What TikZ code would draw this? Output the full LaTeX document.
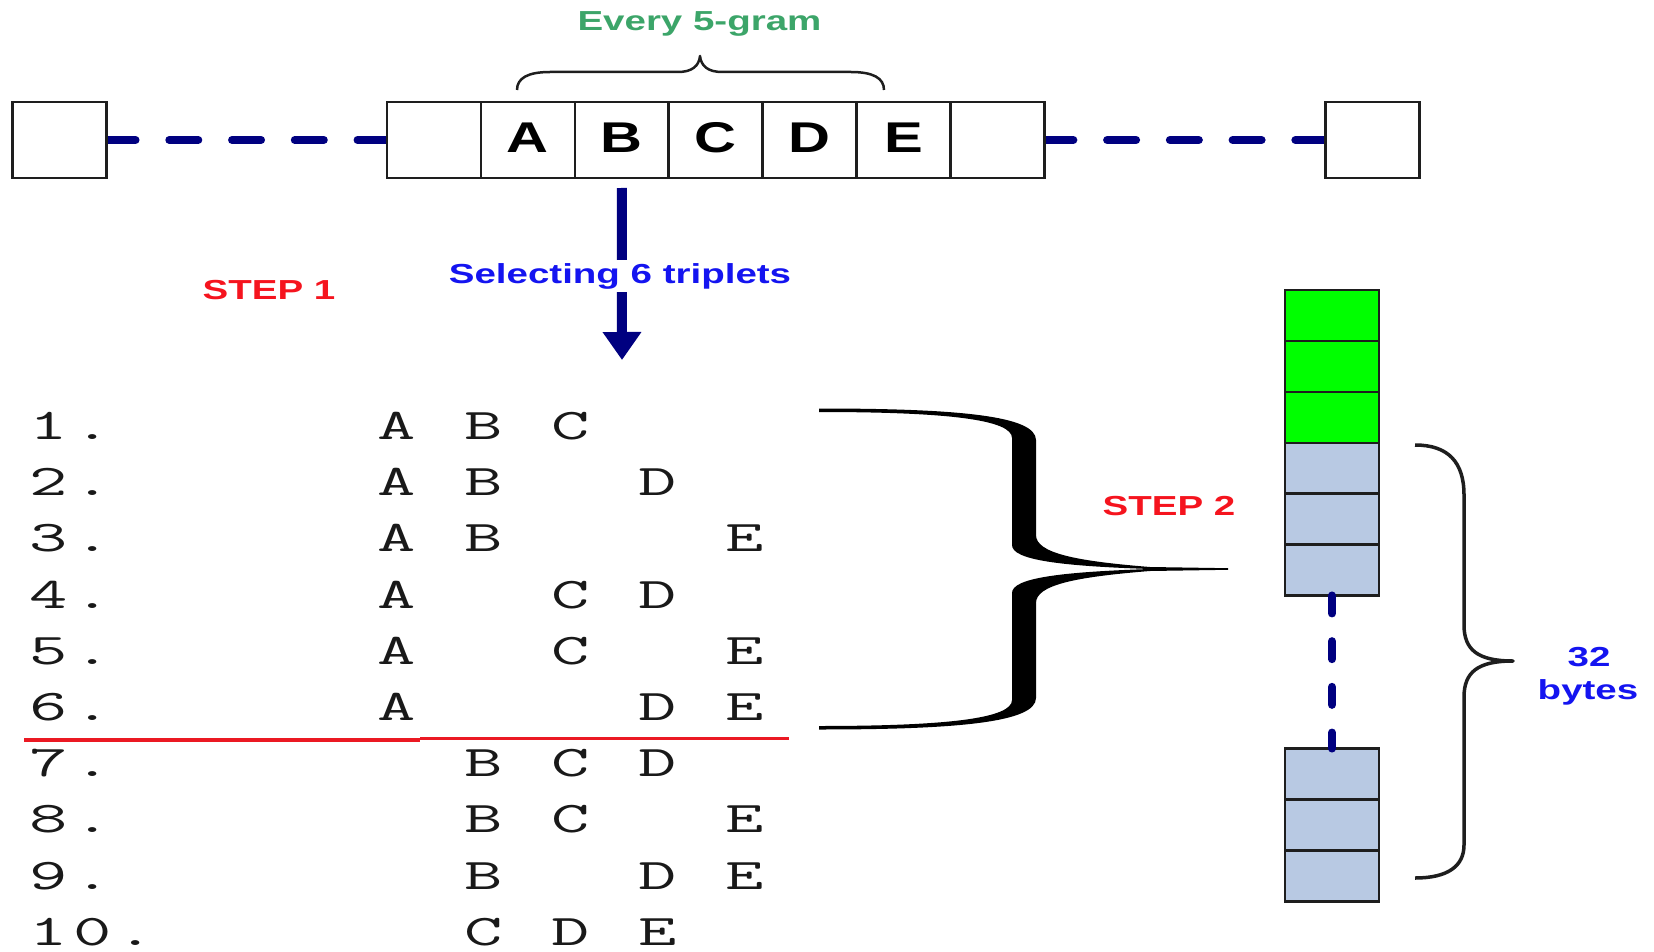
\documentclass[tikz,border=0pt]{standalone}
\usepackage{fontspec}
\setmainfont{Liberation Sans}
\usetikzlibrary{arrows.meta}
\definecolor{navyc}{RGB}{0,0,128}
\definecolor{boxline}{RGB}{30,30,30}
\definecolor{gram}{RGB}{60,165,105}
\definecolor{selblue}{RGB}{20,20,240}
\definecolor{stepred}{RGB}{245,20,30}
\definecolor{linered}{RGB}{235,25,35}
\definecolor{cellgreen}{RGB}{0,255,0}
\definecolor{cellblue}{RGB}{184,201,227}
\newcommand\hs[1]{\scalebox{1.4}[1]{#1}}
\newcommand\lt[1]{\scalebox{1.35}[1]{#1}}
\newcommand\mt[1]{\scalebox{1.7}[1]{#1}}
\tikzset{
 cell/.style={draw=boxline, line width=2.5pt, fill=white, minimum width=93.9pt, minimum height=76pt, inner sep=0pt, outer sep=0pt},
 bytecell/.style={draw=boxline, line width=2.5pt, minimum width=94pt, minimum height=50.9pt, inner sep=0pt, outer sep=0pt},
 gcell/.style={bytecell, fill=cellgreen},
 bcell/.style={bytecell, fill=cellblue},
 bigletter/.style={font=\fontsize{43}{43}\selectfont\bfseries, anchor=base, inner sep=0pt},
 mono/.style={font=\fontsize{43.7}{44}\ttfamily, anchor=base, inner sep=0pt, text=black!90},
 lab/.style={font=\fontsize{27.5}{28}\selectfont\bfseries, anchor=base, inner sep=0pt},
 navydash/.style={draw=navyc, line width=8pt, line cap=round, dash pattern=on 29pt off 33.75pt},
 vdash/.style={draw=navyc, line width=8pt, line cap=round, dash pattern=on 18pt off 27.7pt},
 thinbrace/.style={draw=boxline, line width=2.5pt, line join=round},
}
\begin{document}
\begin{tikzpicture}[x=1pt,y=-1pt]
\useasboundingbox (0,0) rectangle (1654,952);

% ---------- top row ----------
\node[cell] (bl) at (59.6,140) {};
\foreach \i in {0,...,6} {
  \node[cell] (c\i) at ({434+93.9*\i},140) {};
}
\node[cell] (br) at (1372.5,140) {};
\draw[navydash] (bl.east) -- (c0.west);
\draw[navydash] (c6.east) -- (br.west);
% redraw boxes over dash caps
\node[cell] at (59.6,140) {};
\node[cell] at (434,140) {};
\node[cell] at (997.4,140) {};
\node[cell] at (1372.5,140) {};
\foreach \i in {1,...,6} { \draw[boxline, line width=2.5pt] ({387+93.9*\i},102) -- ({387+93.9*\i},178); }

\foreach \i/\t in {1/A,2/B,3/C,4/D,5/E} {
  \node[bigletter] (t\t) at ({434+93.9*\i},153) {\lt{\t}};
}

% top brace and label
\draw[thinbrace] (517,90) .. controls (517,78) and (528,72) .. (550,72) -- (678,72)
  .. controls (692,72) and (699,66) .. (700,56)
  .. controls (701,66) and (708,72) .. (722,72) -- (851,72)
  .. controls (873,72) and (884,78) .. (884,90);
\node[lab, text=gram] (gram) at (699.5,31) {\hs{Every 5-gram}};

% arrow
\coordinate (aend) at (622,360);
\draw[navyc, line width=10pt, shorten <=10pt, -{Triangle[width=37pt,length=28pt]}] (c2.south) -- (aend);
\node[lab, text=selblue, fill=white, inner xsep=2pt, inner ysep=3pt] (sel) at (620,283) {\hs{Selecting 6 triplets}};

\node[lab, text=stepred] (step1) at (269,299) {\hs{STEP 1}};

% ---------- list ----------
\foreach \i/\a/\b/\c/\p/\q/\r in {1/A/B/C/8/10/12, 2/A/B/D/8/10/14, 3/A/B/E/8/10/16,
   4/A/C/D/8/12/14, 5/A/C/E/8/12/16, 6/A/D/E/8/14/16, 7/B/C/D/10/12/14,
   8/B/C/E/10/12/16, 9/B/D/E/10/14/16, 10/C/D/E/10/12/14} {
  \pgfmathsetmacro\yy{439.5+56.2*(\i-1)}
  \node[mono] (r\i a) at ({49+43.5*\p},\yy) {\mt{\a}};
  \node[mono] (r\i b) at ({49+43.5*\q},\yy) {\mt{\b}};
  \node[mono] (r\i c) at ({49+43.5*\r},\yy) {\mt{\c}};
}
\foreach \i in {1,...,9} {
  \pgfmathsetmacro\yy{439.5+56.2*(\i-1)}
  \node[mono] (n\i) at (49,\yy) {\mt{\i}};
  \node[mono] (d\i) at (92.5,\yy) {\mt{.}};
}
\node[mono] (n10a) at (49,945.3) {\mt{1}};
\node[mono] (n10b) at (92.5,945.3) {\mt{0}};
\node[mono] (d10) at (136,945.3) {\mt{.}};

\draw[linered, line width=3.5pt] (24,740) -- (420,740);
\draw[linered, line width=3.5pt] (420,738.5) -- (789,738.5);

% big brace
\fill[black] (819,408.5) .. controls (960,408.5) and (1036,416) .. (1036,440)
  -- (1036,535) .. controls (1036,553) and (1075,561) .. (1150,567) -- (1228,568.2)
  -- (1228,569.8) -- (1150,571) .. controls (1075,577) and (1036,585) .. (1036,603)
  -- (1036,698) .. controls (1036,722) and (960,729.5) .. (819,729.5)
  -- (819,726) .. controls (950,726) and (1012,718) .. (1012,700)
  -- (1012,593) .. controls (1012,578) and (1060,572) .. (1150,569)
  .. controls (1060,566) and (1012,560) .. (1012,545)
  -- (1012,438) .. controls (1012,420) and (950,412) .. (819,412) -- cycle;

\node[lab, text=stepred] (step2) at (1169,515) {\hs{STEP 2}};

% ---------- byte column ----------
\foreach \k/\y in {1/315.5,2/366.4,3/417.3} { \node[gcell] (g\k) at (1332,\y) {}; }
\foreach \k/\y in {4/468.2,5/519.1,6/570} { \node[bcell] (g\k) at (1332,\y) {}; }
\foreach \k/\y in {1/774,2/824.9,3/875.8} { \node[bcell] (h\k) at (1332,\y) {}; }
\draw[vdash] (g6.south) -- (h1.north);

\draw[thinbrace, line width=3.5pt] (1415,445) .. controls (1448,445) and (1464,462) .. (1464,495)
  -- (1464,625) .. controls (1464,650) and (1478,661) .. (1513,661)
  .. controls (1478,661) and (1464,672) .. (1464,697)
  -- (1464,845) .. controls (1464,866) and (1448,878) .. (1415,878);

\node[lab, text=selblue] (n32) at (1589,666.5) {\hs{32}};
\node[lab, text=selblue] (bytes) at (1588,699) {\hs{bytes}};
\end{tikzpicture}
\end{document}
